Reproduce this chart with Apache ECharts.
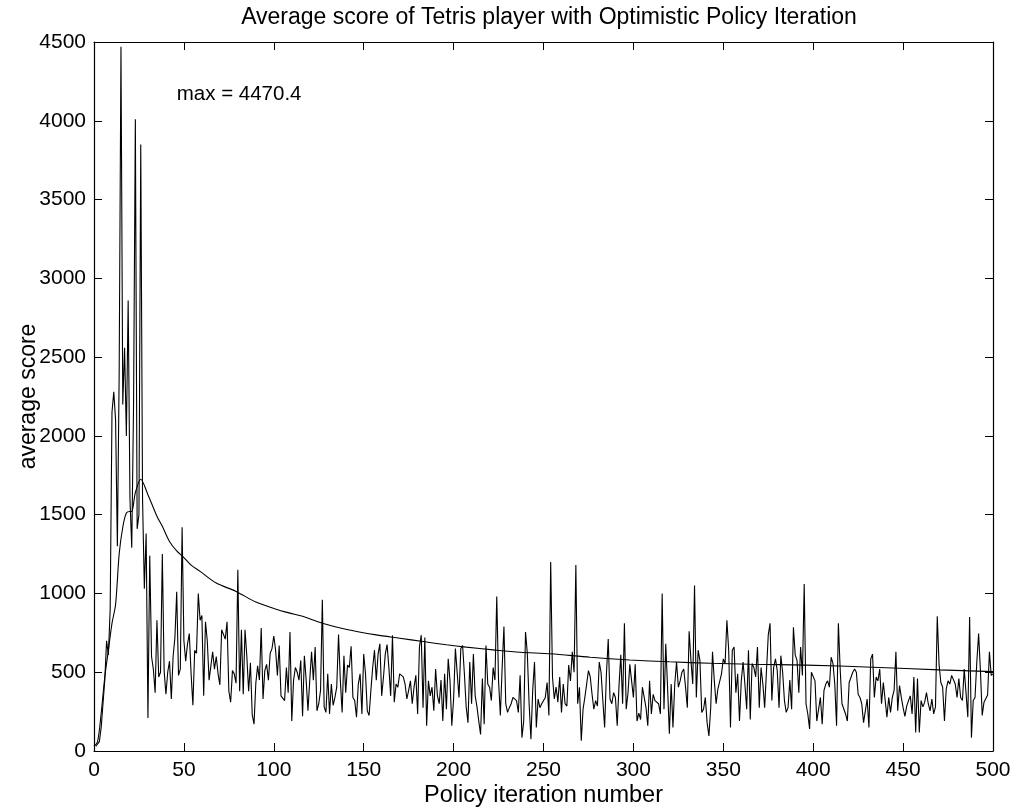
<!DOCTYPE html>
<html>
<head>
<meta charset="utf-8">
<script src="https://cdn.jsdelivr.net/npm/echarts@6/dist/echarts.min.js"></script>
<style>
html,body{margin:0;padding:0;background:#fff;}
#chart{width:1019px;height:812px;}
</style>
</head>
<body>
<div id="chart"></div>
<script>
// Score per policy iteration (iterations 1..500)
const scores = [
  30, 40, 60, 150, 300, 450, 700, 610, 900, 2150,
  2280, 2100, 1300, 2400, 4470.4, 2200, 2560, 2000, 2860, 1600,
  1290, 2200, 4010, 1410, 1500, 3850, 1600, 1030, 1380, 210,
  1240, 600, 520, 370, 830, 470, 500, 1250, 510, 360,
  500, 570, 330, 600, 720, 1010, 480, 520, 1420, 700,
  570, 680, 745, 490, 290, 640, 620, 1000, 830, 860,
  350, 820, 700, 450, 460, 630, 520, 600, 490, 420,
  770, 780, 710, 820, 380, 310, 510, 490, 430, 1150,
  380, 770, 360, 770, 600, 380, 560, 230, 170, 430,
  540, 450, 780, 330, 510, 550, 450, 620, 650, 730,
  640, 480, 670, 350, 340, 320, 530, 370, 755, 190,
  450, 530, 500, 450, 575, 220, 605, 450, 255, 450,
  630, 450, 660, 255, 300, 385, 960, 280, 245, 490,
  235, 425, 290, 340, 405, 740, 450, 245, 605, 370,
  545, 530, 665, 340, 320, 215, 425, 490, 235, 615,
  490, 255, 225, 385, 530, 640, 450, 615, 680, 350,
  470, 615, 675, 530, 350, 735, 310, 425, 405, 490,
  490, 470, 425, 330, 385, 445, 300, 405, 480, 235,
  660, 735, 275, 720, 160, 445, 350, 405, 255, 520,
  350, 300, 450, 190, 490, 265, 585, 445, 160, 330,
  650, 640, 340, 650, 670, 490, 280, 180, 565, 300,
  615, 350, 280, 190, 105, 460, 170, 670, 425, 405,
  320, 530, 450, 980, 445, 225, 530, 790, 300, 245,
  275, 300, 340, 340, 320, 245, 480, 85, 190, 755,
  620, 300, 75, 385, 565, 150, 330, 275, 300, 290,
  340, 435, 225, 1200, 470, 330, 405, 310, 470, 245,
  425, 300, 285, 545, 445, 630, 500, 1180, 300, 405,
  65, 265, 340, 425, 510, 470, 360, 265, 320, 285,
  565, 500, 320, 150, 490, 710, 330, 300, 370, 340,
  160, 415, 610, 300, 810, 265, 370, 550, 555, 340,
  550, 190, 240, 200, 405, 340, 275, 160, 445, 235,
  360, 320, 310, 300, 235, 1000, 265, 680, 405, 110,
  425, 150, 425, 565, 405, 445, 500, 520, 405, 275,
  760, 575, 425, 1050, 340, 640, 575, 245, 265, 340,
  180, 95, 275, 630, 445, 300, 395, 405, 490, 585,
  555, 830, 640, 150, 640, 660, 370, 490, 190, 445,
  565, 425, 265, 640, 200, 555, 530, 470, 660, 275,
  530, 425, 275, 265, 735, 810, 320, 530, 585, 510,
  275, 605, 500, 320, 245, 275, 450, 265, 785, 610,
  575, 370, 660, 480, 1060, 300, 235, 140, 500, 510,
  445, 190, 180, 340, 170, 385, 425, 445, 405, 595,
  555, 425, 160, 810, 520, 300, 310, 235, 190, 435,
  435, 500, 520, 500, 360, 340, 300, 180, 255, 330,
  150, 585, 615, 340, 470, 445, 520, 300, 435, 425,
  215, 340, 245, 340, 385, 630, 255, 415, 340, 275,
  220, 285, 320, 350, 235, 470, 117, 460, 117, 320,
  280, 310, 370, 300, 255, 330, 235, 280, 855, 550,
  435, 405, 190, 395, 445, 425, 480, 490, 425, 340,
  460, 340, 320, 520, 520, 215, 850, 85, 320, 340,
  565, 745, 510, 225, 310, 300, 355, 630, 480, 490
];

// Running average curve
const avgIter  = [0, 2, 4, 6, 8, 10, 12, 14, 16, 18, 20, 21, 23, 26, 30, 35, 38, 42, 46, 50, 54, 59, 68, 79, 90, 100, 109, 115, 127, 140, 157, 170, 183, 196, 207, 222, 237, 254, 276, 298, 320, 343, 365, 396, 433, 470, 500];
const avgValue = [30, 60, 240, 470, 640, 810, 930, 1250, 1420, 1510, 1520, 1520, 1640, 1725, 1627, 1490, 1426, 1330, 1270, 1228, 1180, 1140, 1066, 1013, 945, 905, 875, 858, 811, 773, 737, 716, 695, 674, 659, 642, 627, 617, 595, 578, 566, 557, 551, 545, 532, 515, 504];

const xTicks = [0, 500, 50];     // min, max, interval
const yTicks = [0, 4500, 500];   // min, max, interval
const annotationAt = [46, 4170];

const titleText = 'Average score of Tetris player with Optimistic Policy Iteration';
const xName = 'Policy iteration number';
const yName = 'average score';

const scoreData = scores.map((v, i) => [i + 1, v]);
const avgData = avgIter.map((x, i) => [x, avgValue[i]]);
const maxLabel = 'max = ' + Math.max(...scores).toFixed(1);

const FONT = 'Liberation Sans, Arial, Helvetica, sans-serif';
const plain = v => String(v);
const axisCommon = {
  axisLine: { show: true, onZero: false, lineStyle: { color: '#000', width: 1.2 } },
  axisTick: { show: true, inside: true, length: 8, lineStyle: { color: '#000', width: 1 } },
  splitLine: { show: false }
};

const chart = echarts.init(document.getElementById('chart'), null, { renderer: 'canvas' });
chart.setOption({
  animation: false,
  backgroundColor: '#fff',
  title: {
    text: titleText,
    left: 544, top: 1, textAlign: 'center',
    textStyle: { fontFamily: FONT, fontSize: 23, fontWeight: 'normal', color: '#000' }
  },
  grid: { left: 94, right: 26, top: 42, bottom: 61, containLabel: false, outerBoundsMode: 'none' },
  xAxis: [
    Object.assign({
      type: 'value', position: 'bottom', min: xTicks[0], max: xTicks[1], interval: xTicks[2],
      name: xName, nameLocation: 'middle', nameGap: 33, nameMoveOverlap: false,
      nameTextStyle: { fontFamily: FONT, fontSize: 23.5, color: '#000' },
      axisLabel: { fontFamily: FONT, fontSize: 21, color: '#000', margin: 9, formatter: plain }
    }, axisCommon),
    Object.assign({
      type: 'value', position: 'top', min: xTicks[0], max: xTicks[1], interval: xTicks[2],
      axisLabel: { show: false }
    }, axisCommon)
  ],
  yAxis: [
    Object.assign({
      type: 'value', position: 'left', min: yTicks[0], max: yTicks[1], interval: yTicks[2],
      name: yName, nameLocation: 'middle', nameGap: 54, nameRotate: 90, nameMoveOverlap: false,
      nameTextStyle: { fontFamily: FONT, fontSize: 23, color: '#000' },
      axisLabel: { fontFamily: FONT, fontSize: 21, color: '#000', margin: 8, formatter: plain }
    }, axisCommon),
    Object.assign({
      type: 'value', position: 'right', min: yTicks[0], max: yTicks[1], interval: yTicks[2],
      axisLabel: { show: false }
    }, axisCommon)
  ],
  series: [
    {
      name: 'score', type: 'line', data: scoreData, showSymbol: false, symbol: 'none',
      lineStyle: { color: '#000', width: 1.1 }, xAxisIndex: 0, yAxisIndex: 0, z: 3
    },
    {
      name: 'average', type: 'line', data: avgData, showSymbol: false, symbol: 'none', smooth: 0.3,
      lineStyle: { color: '#000', width: 1.1 }, xAxisIndex: 0, yAxisIndex: 0, z: 4,
      markPoint: {
        symbol: 'circle', symbolSize: 0, silent: true,
        data: [{ coord: annotationAt, value: 0 }],
        label: {
          show: true, position: 'right', distance: 0, formatter: maxLabel,
          fontFamily: FONT, fontSize: 20.5, color: '#000'
        }
      }
    }
  ]
});
</script>
</body>
</html>
